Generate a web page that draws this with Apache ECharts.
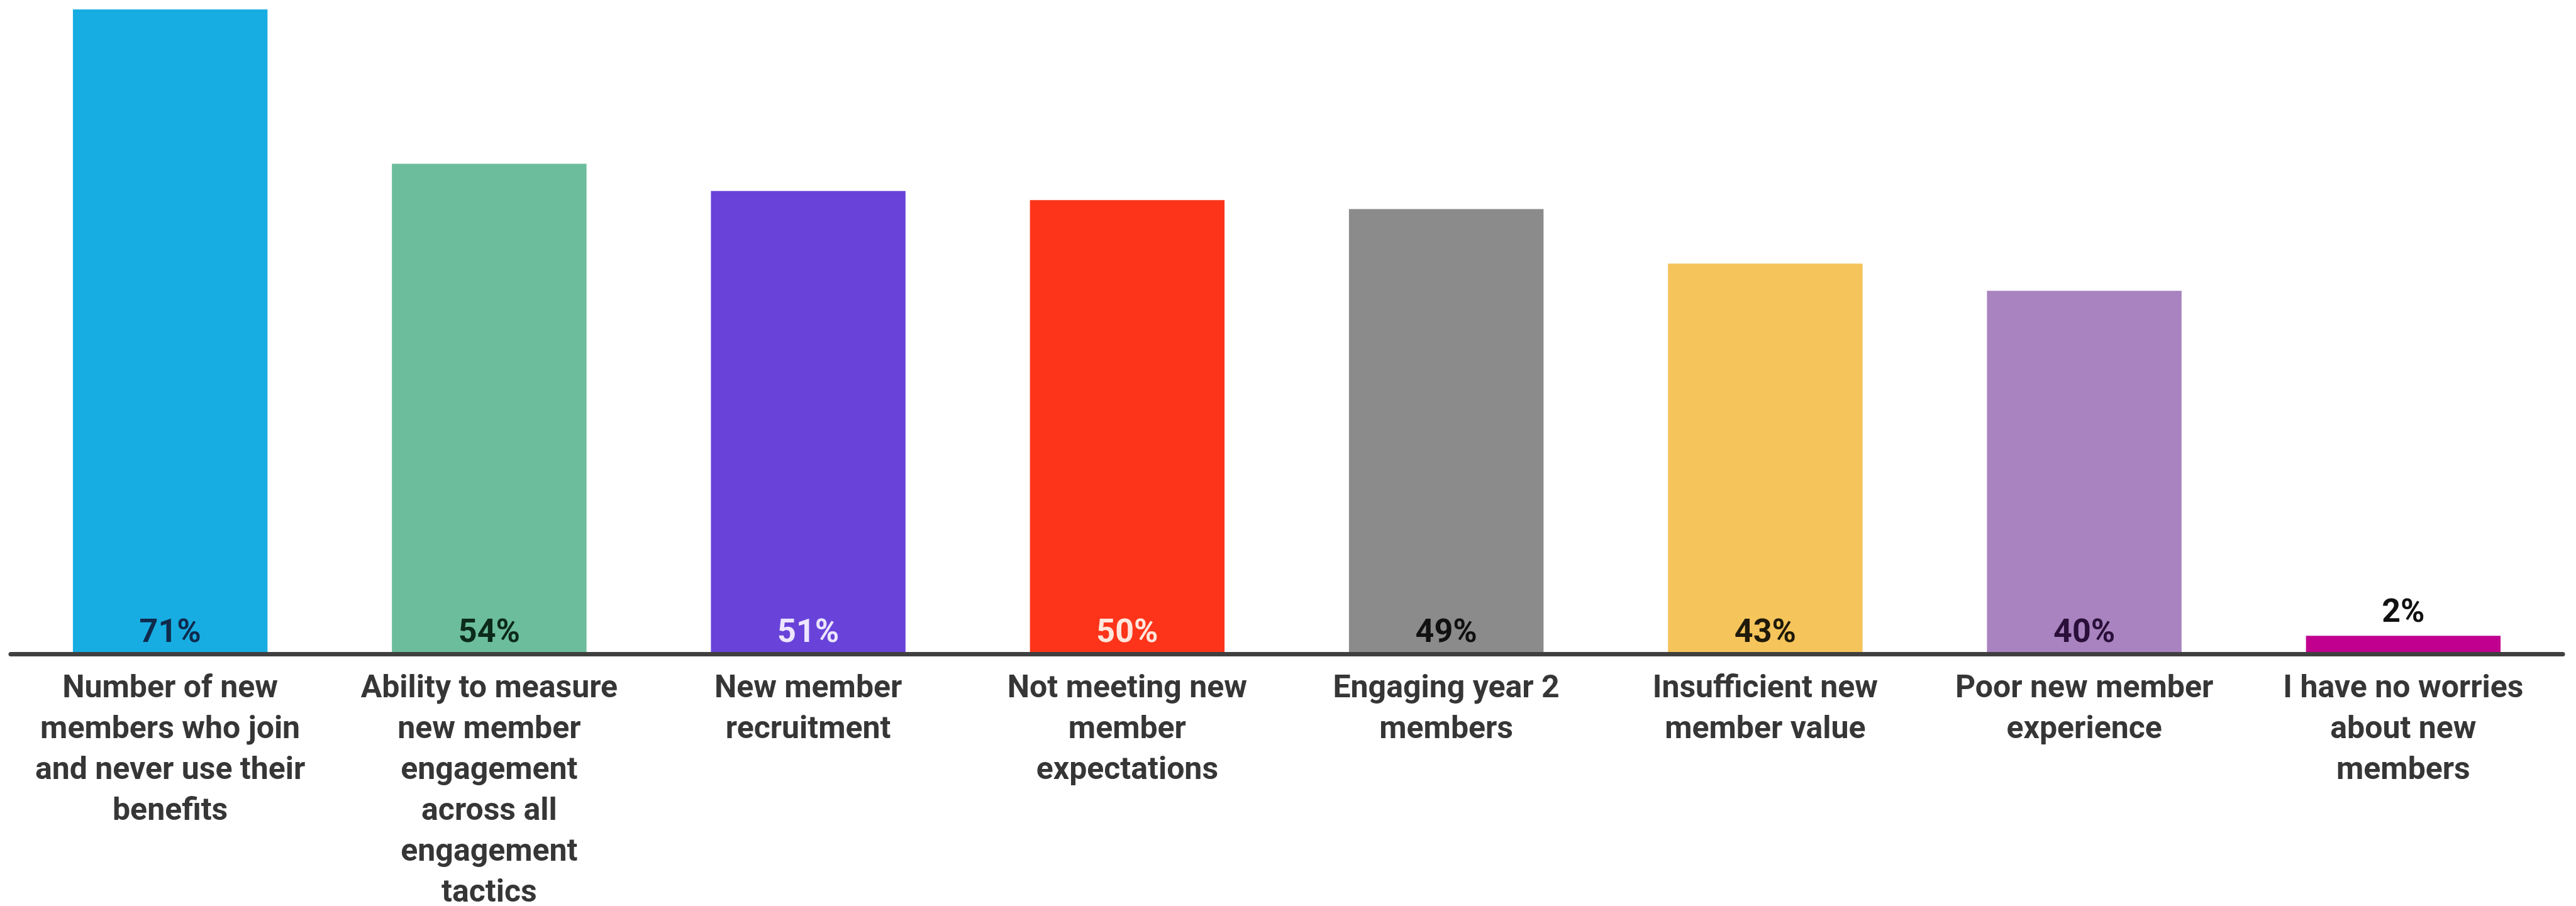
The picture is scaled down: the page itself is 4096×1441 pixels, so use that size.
<!DOCTYPE html>
<html>
<head>
<meta charset="utf-8">
<script src="https://cdn.jsdelivr.net/npm/echarts@6/dist/echarts.min.js"></script>
<style>
  html, body { margin: 0; padding: 0; background: #fff; }
  #chart { width: 4096px; height: 1441px; }
</style>
</head>
<body>
<div id="chart"></div>
<script>
// categories (line breaks as in the picture)
var categories = [
  'Number of new\nmembers who join\nand never use their\nbenefits',
  'Ability to measure\nnew member\nengagement\nacross all\nengagement\ntactics',
  'New member\nrecruitment',
  'Not meeting new\nmember\nexpectations',
  'Engaging year 2\nmembers',
  'Insufficient new\nmember value',
  'Poor new member\nexperience',
  'I have no worries\nabout new\nmembers'
];
var values = [71, 54, 51, 50, 49, 43, 40, 2];
var barColors = ['#17ade2', '#6bbd9b', '#6943d9', '#fd3419', '#8b8b8b', '#f5c45b', '#a883bf', '#c1008f'];
var labelColors = ['#0f2a4d', '#0c2a18', '#ede6ff', '#ffe6dc', '#111111', '#1f1a0a', '#2a0f3a', '#111111'];

var myChart = echarts.init(document.getElementById('chart'));

var seriesData = values.map(function (v, i) {
  var small = v < 10;
  return {
    value: v,
    itemStyle: { color: barColors[i] },
    label: {
      position: small ? 'top' : 'insideBottom',
      distance: small ? 9 : 6,
      color: labelColors[i]
    }
  };
});

var option = {
  animation: false,
  grid: { left: 17, right: 21, top: 15, bottom: 401, containLabel: false, outerBoundsMode: 'none' },
  xAxis: {
    type: 'category',
    data: categories,
    z: 3,
    axisLine: { lineStyle: { color: '#404040', width: 7 } },
    axisTick: { show: false },
    axisLabel: {
      interval: 0,
      margin: 24,
      fontFamily: 'Roboto',
      fontWeight: 'bold',
      fontSize: 50,
      lineHeight: 65,
      color: '#363636'
    }
  },
  yAxis: {
    type: 'value',
    min: 0,
    max: 71,
    show: false,
    splitLine: { show: false }
  },
  series: [
    {
      type: 'bar',
      barWidth: '61%',
      data: seriesData,
      label: {
        show: true,
        formatter: '{c}%',
        fontFamily: 'Roboto',
        fontWeight: 'bold',
        fontSize: 52
      }
    }
  ]
};

myChart.setOption(option);
window.addEventListener('resize', function () {
  myChart.resize();
});
</script>
</body>
</html>
